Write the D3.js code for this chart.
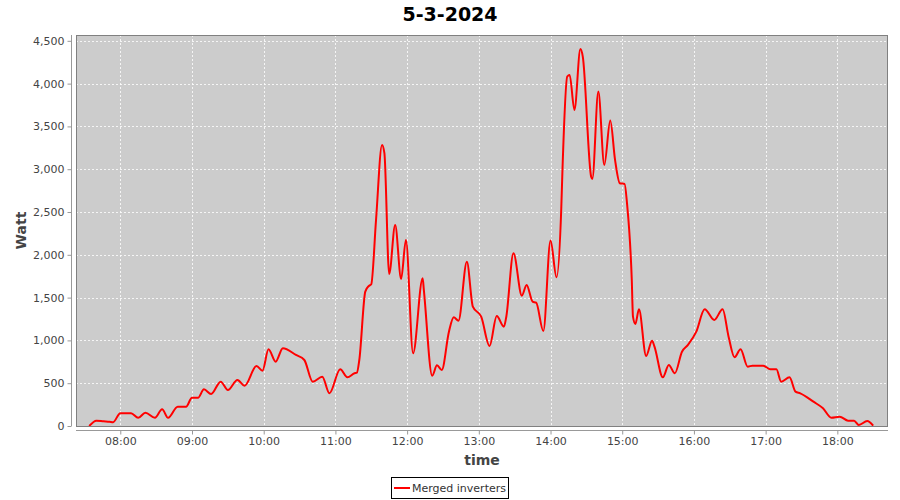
<!DOCTYPE html>
<html>
<head>
<meta charset="utf-8">
<script src="https://cdn.jsdelivr.net/npm/d3@7"></script>
<style>
  html, body { margin: 0; padding: 0; background: #fff; }
  svg { display: block; font-family: "DejaVu Sans", sans-serif; }
</style>
</head>
<body>
<svg id="chart" width="900" height="500"></svg>
<script>
// ---- data ----
const title = "5-3-2024";
const seriesName = "Merged inverters";
const xLabel = "time";
const yLabel = "Watt";
const times = ["07:34","07:40","07:46","07:51","07:54","08:00","08:09","08:15","08:21","08:29","08:35","08:40","08:48","08:55","09:00","09:05","09:10","09:16","09:24","09:30","09:38","09:44","09:54","09:59","10:04","10:10","10:16","10:27","10:34","10:41","10:49","10:55","11:04","11:10","11:16","11:18","11:20","11:25","11:28","11:30","11:34","11:39","11:41","11:45","11:50","11:55","11:59","12:05","12:13","12:14","12:21","12:25","12:29","12:35","12:39","12:43","12:50","12:55","13:02","13:09","13:15","13:21","13:23","13:29","13:36","13:40","13:45","13:48","13:54","14:00","14:05","14:09","14:10","14:14","14:16","14:20","14:25","14:27","14:34","14:35","14:40","14:45","14:50","14:54","14:58","15:02","15:04","15:08","15:09","15:11","15:14","15:20","15:25","15:27","15:34","15:39","15:44","15:50","15:55","16:02","16:09","16:17","16:24","16:29","16:34","16:39","16:45","16:49","16:58","17:04","17:09","17:13","17:20","17:25","17:29","17:40","17:48","17:55","18:02","18:09","18:14","18:18","18:25","18:30"];
const watts = [0,62,55,50,45,150,150,95,155,95,195,95,225,225,330,330,428,374,518,420,538,471,701,646,896,752,908,830,771,518,576,382,662,569,616,623,771,1570,1636,1656,2408,3284,3187,1777,2349,1718,2174,850,1726,1590,588,709,655,1102,1270,1231,1920,1394,1277,935,1286,1160,1277,2018,1523,1648,1453,1441,1110,2166,1738,2544,2992,4083,4102,3693,4403,4316,2913,2887,3907,3050,3568,3109,2836,2828,2603,1706,1277,1192,1364,818,997,927,569,713,616,868,947,1102,1364,1239,1364,1044,803,896,693,705,705,662,662,518,569,401,382,284,207,97,109,62,62,12,58,4];
const xTicks = ["08:00","09:00","10:00","11:00","12:00","13:00","14:00","15:00","16:00","17:00","18:00"];
const yTicks = [0,500,1000,1500,2000,2500,3000,3500,4000,4500];

// ---- layout ----
const parse = d3.timeParse("%H:%M");
const parseS = d3.timeParse("%H:%M:%S");
const data = times.map((t, i) => ({ t: parse(t), v: watts[i] }));
const L = 76, R = 888, T = 35, B = 426;

const svg = d3.select("#chart");
const x = d3.scaleTime().domain([parseS("07:22:56"), parseS("18:42:24")]).range([L, R]);
const y = d3.scaleLinear().domain([0, 4568]).range([B, T]);

// title
svg.append("text").attr("x", 450).attr("y", 21).attr("text-anchor", "middle")
  .attr("font-size", 19).attr("font-weight", "bold").attr("fill", "#000").text(title);

// plot background
svg.append("rect").attr("x", L).attr("y", T).attr("width", R - L).attr("height", B - T)
  .attr("fill", "#cccccc");

// gridlines
const grid = svg.append("g");
xTicks.forEach(s => {
  const px = Math.round(x(parse(s))) + 0.5;
  grid.append("line").attr("x1", px).attr("x2", px).attr("y1", T).attr("y2", B)
    .attr("stroke", "#ffffff").attr("stroke-width", 0.8).attr("stroke-dasharray", "2,2");
});
yTicks.forEach(v => {
  const py = Math.round(y(v)) + 0.5;
  grid.append("line").attr("x1", L).attr("x2", R).attr("y1", py).attr("y2", py)
    .attr("stroke", "#ffffff").attr("stroke-width", 0.8).attr("stroke-dasharray", "2,2");
});

// line
const line = d3.line().x(d => x(d.t)).y(d => y(d.v)).curve(d3.curveMonotoneX);
const clip = svg.append("clipPath").attr("id", "clip").append("rect")
  .attr("x", L).attr("y", T).attr("width", R - L).attr("height", B - T);
svg.append("path").datum(data).attr("d", line).attr("fill", "none")
  .attr("stroke", "#ff0000").attr("stroke-width", 2).attr("stroke-linejoin", "round")
  .attr("clip-path", "url(#clip)");

// plot border
svg.append("rect").attr("x", L + 0.5).attr("y", T + 0.5).attr("width", R - L - 1).attr("height", B - T)
  .attr("fill", "none").attr("stroke", "#808080").attr("stroke-width", 1);

// x axis
const xAxis = d3.axisBottom(x).tickValues(xTicks.map(s => parse(s)))
  .tickFormat(d3.timeFormat("%H:%M")).tickSize(4).tickSizeOuter(0);
const gx = svg.append("g").attr("transform", `translate(0,${B + 4.5})`).call(xAxis);
gx.select(".domain").attr("stroke", "#999").attr("d", `M${L},0H${R}`);
gx.selectAll(".tick line").attr("stroke", "#999");
gx.selectAll(".tick text").attr("fill", "#444").attr("font-size", 11)
  .attr("font-family", "DejaVu Sans").attr("dy", "0.75em").attr("y", 6);

// y axis
const yAxis = d3.axisLeft(y).tickValues(yTicks).tickFormat(d3.format(",")).tickSize(4).tickSizeOuter(0);
const gy = svg.append("g").attr("transform", `translate(${L - 4.5},0)`).call(yAxis);
gy.select(".domain").attr("stroke", "#999").attr("d", `M0,${T}V${B}`);
gy.selectAll(".tick line").attr("stroke", "#999");
gy.selectAll(".tick text").attr("fill", "#444").attr("font-size", 11)
  .attr("font-family", "DejaVu Sans").attr("x", -7);

// axis labels
svg.append("text").attr("x", (L + R) / 2).attr("y", 465).attr("text-anchor", "middle")
  .attr("font-size", 14).attr("font-weight", "bold").attr("fill", "#444").text(xLabel);
svg.append("text").attr("transform", `translate(26,${(T + B) / 2}) rotate(-90)`)
  .attr("text-anchor", "middle").attr("font-size", 14).attr("font-weight", "bold")
  .attr("fill", "#444").text(yLabel);

// legend
const lg = svg.append("g");
lg.append("rect").attr("x", 391.5).attr("y", 477.5).attr("width", 117).attr("height", 21)
  .attr("fill", "#fff").attr("stroke", "#000").attr("stroke-width", 1);
lg.append("line").attr("x1", 394).attr("x2", 410).attr("y1", 488).attr("y2", 488)
  .attr("stroke", "#ff0000").attr("stroke-width", 2);
lg.append("text").attr("x", 412).attr("y", 492).attr("font-size", 11).attr("fill", "#333")
  .text(seriesName);
</script>
</body>
</html>
